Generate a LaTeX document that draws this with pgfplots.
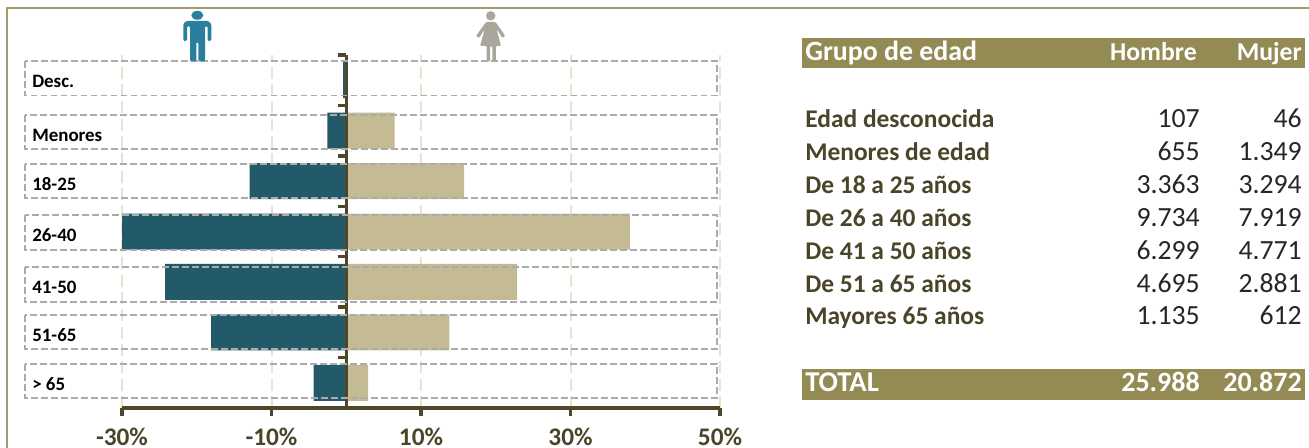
\documentclass[border=0pt]{standalone}
\usepackage{pgfplots}
\pgfplotsset{compat=1.18}
\usepackage{fontspec}
\setmainfont{Carlito}
\definecolor{hombre}{HTML}{225A69}
\definecolor{mujer}{HTML}{C4BB95}
\definecolor{eje}{HTML}{4F4729}
\definecolor{oliva}{HTML}{948A54}
\definecolor{rejilla}{HTML}{E8E3CD}
\definecolor{caja}{HTML}{ABABAB}
\definecolor{etq}{HTML}{4A4529}
\definecolor{num}{HTML}{262626}
\definecolor{icoh}{HTML}{2A7F9E}
\definecolor{icom}{HTML}{A9A69C}
% 1 px of the reference = 0.75pt
\begin{document}
\begin{tikzpicture}
\path[use as bounding box] (0,0) rectangle (981.75pt,-336pt);
\begin{axis}[
  at={(91.5pt,-306pt)}, anchor=south west,
  scale only axis, width=448.5pt, height=264.75pt,
  xmin=-30, xmax=50, ymin=0, ymax=7,
  axis x line=bottom, axis y line=center,
  x axis line style={-, eje, line width=3pt},
  y axis line style={-, eje, line width=2pt},
  xtick={-30,-10,10,30,50},
  xticklabels={-30\%,-10\%,10\%,30\%,50\%},
  ytick={0,1,2,3,4,5,6,7}, yticklabels={},
  tick style={eje, line width=2.6pt},
  major tick length=6pt,
  xtick align=outside, ytick align=outside,
  xticklabel style={font=\fontsize{19}{20}\selectfont\bfseries, text=etq, anchor=base, inner sep=0pt, yshift=-22pt},
  xmajorgrids,
  grid style={rejilla, line width=1.5pt, dash pattern=on 9pt off 4pt},
  xbar, bar shift=0pt, bar width=27pt,
]
  \addplot[draw=none, fill=hombre] coordinates {
    (-0.41,6.5) (-2.52,5.5) (-12.94,4.5) (-37.46,3.5) (-24.24,2.5) (-18.07,1.5) (-4.37,0.5)};
  \addplot[draw=none, fill=mujer] coordinates {
    (0.22,6.5) (6.46,5.5) (15.78,4.5) (37.94,3.5) (22.86,2.5) (13.80,1.5) (2.93,0.5)};
  \draw[eje, line width=2pt] (axis cs:0,0) -- (axis cs:0,7);
\end{axis}
\begin{scope}[x=0.75pt, y=-0.75pt]
  % marco
  \draw[oliva!85!white, line width=1.5pt] (7,448) -- (7,8) -- (1309,8);
  % cajas de texto
  \foreach \t/\b/\n in {61/95.5/Desc., 115/149/Menores, 164/198/18-25, 215/250/26-40, 267/302/41-50, 315/349/51-65, 364/398/{> 65}} {
    \draw[caja, line width=1.1pt, dash pattern=on 5pt off 2.5pt] (25,\t) rectangle (717,\b);
    \node[anchor=west, inner sep=0pt, font=\fontsize{14.2}{16}\selectfont\bfseries, text=black] at (32,{(\t+\b)/2+3}) {\n};
  }
  % hombre
  \fill[icoh] (197.3,15.3) ellipse (6 and 4.5);
  \fill[icoh, rounded corners=1pt] (183.3,41) -- (183.3,24) -- (186,21) -- (208.5,21) -- (211.3,24) -- (211.3,41) -- (207.5,41) -- (207.5,26) -- (205,26)
    -- (205,61.5) -- (198.3,61.5) -- (198.3,42) -- (196.3,42) -- (196.3,61.5) -- (190,61.5) -- (190,26) -- (187,26) -- (187,41) -- cycle;
  % mujer
  \fill[icom] (490.7,15.8) circle (4.7);
  \fill[icom, rounded corners=0.8pt] (486,22) -- (495.5,22) -- (505.3,36) -- (502.5,38) -- (496.5,29) -- (501,46) -- (495.8,46) -- (495.8,61.5) -- (492.3,61.5) -- (492.3,46)
    -- (490.2,46) -- (490.2,61.5) -- (486.7,61.5) -- (486.7,46) -- (480,46) -- (484.8,29) -- (479,38) -- (476,36) -- cycle;
  % tabla
  \fill[oliva] (802,37.7) rectangle (1305,67.7);
  \fill[oliva] (802,369) rectangle (1305,400);
  \node[anchor=base west, inner sep=0pt, text=white, font=\fontsize{20.9}{22}\selectfont\bfseries] at (805,61) {Grupo de edad};
  \node[anchor=base east, inner sep=0pt, text=white, font=\fontsize{19.3}{22}\selectfont\bfseries] at (1197,61) {Hombre};
  \node[anchor=base east, inner sep=0pt, text=white, font=\fontsize{19.3}{22}\selectfont\bfseries] at (1302,61) {Mujer};
  \foreach \y/\l/\h/\m in {127.7/Edad desconocida/107/46, 160.3/Menores de edad/655/1.349, 193.7/De 18 a 25 años/3.363/3.294,
      227/De 26 a 40 años/9.734/7.919, 259.5/De 41 a 50 años/6.299/4.771, 292.5/De 51 a 65 años/4.695/2.881, 325/Mayores 65 años/1.135/612} {
    \node[anchor=base west, inner sep=0pt, text=etq, font=\fontsize{19.1}{22}\selectfont\bfseries] at (805,\y) {\l};
    \node[anchor=base east, inner sep=0pt, text=num, font=\fontsize{20.8}{22}\selectfont] at (1200,\y) {\h};
    \node[anchor=base east, inner sep=0pt, text=num, font=\fontsize{20.8}{22}\selectfont] at (1302,\y) {\m};
  }
  \node[anchor=base west, inner sep=0pt, text=white, font=\fontsize{21.5}{22}\selectfont\bfseries] at (805,391.7) {TOTAL};
  \node[anchor=base east, inner sep=0pt, text=white, font=\fontsize{21}{22}\selectfont\bfseries] at (1200,391.7) {25.988};
  \node[anchor=base east, inner sep=0pt, text=white, font=\fontsize{21}{22}\selectfont\bfseries] at (1302,391.7) {20.872};
\end{scope}
\end{tikzpicture}
\end{document}
